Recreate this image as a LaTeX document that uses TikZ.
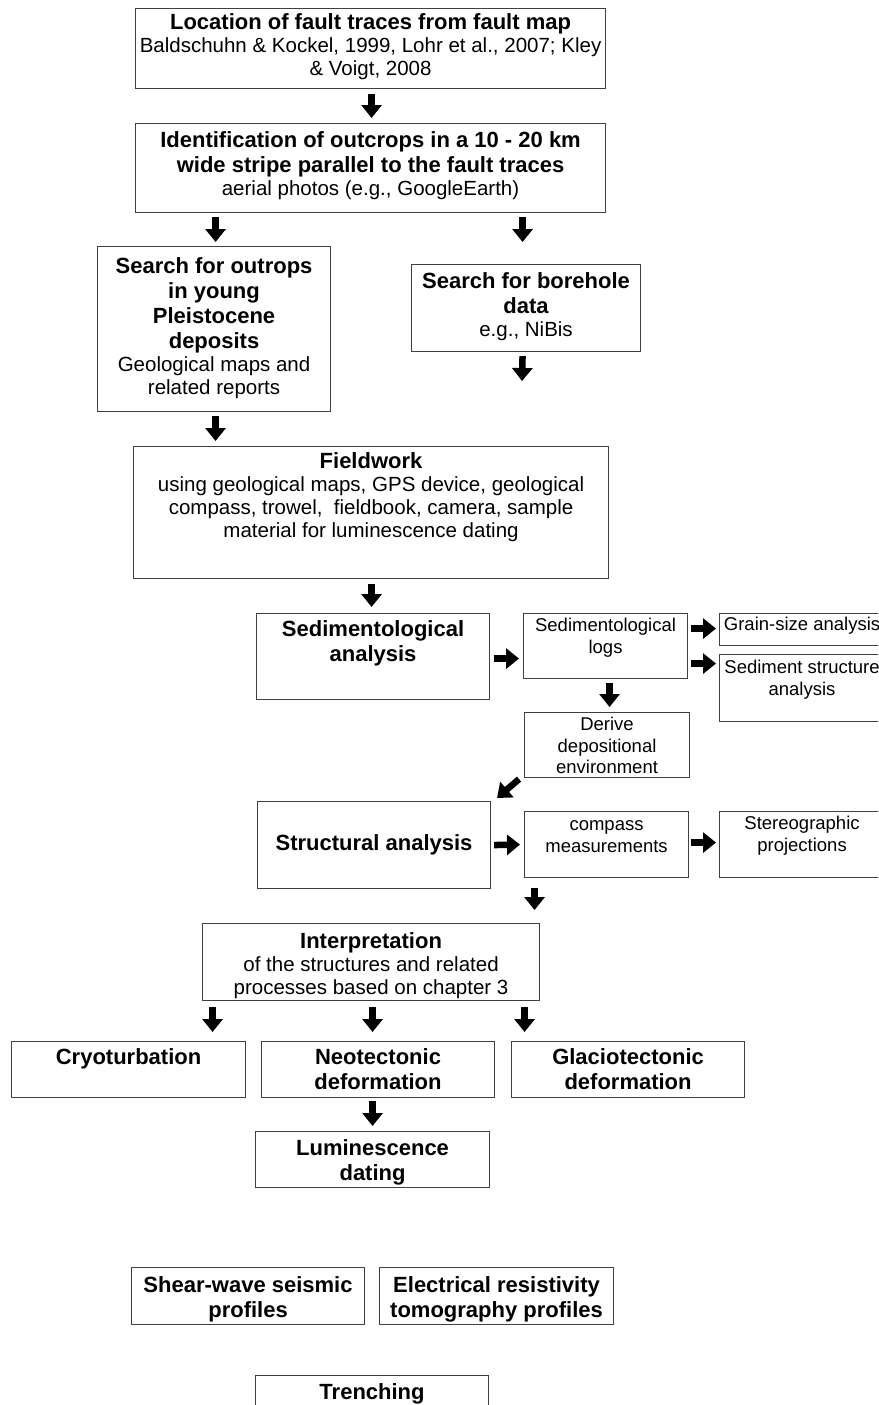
\documentclass[tikz,border=0pt]{standalone}
\usepackage{fontspec}
\setmainfont{Liberation Sans}
\usetikzlibrary{arrows.meta}
\newcommand\Bf{\fontsize{22}{25}\selectfont\bfseries}
\newcommand\Nf{\fontsize{20.5}{23}\selectfont\mdseries}
\newcommand\Sf{\fontsize{18.5}{21.5}\selectfont\mdseries}
\newcommand\bxn[7]{\node[bx] (#1) at (#2,#3) {\parbox[c][\dimexpr #5pt-#3pt\relax][t]{\dimexpr #4pt-#2pt\relax}{\centering\vspace*{#6pt}#7\par}};}
\tikzset{
  bx/.style={draw=black!75, line width=1.1pt, inner sep=0pt, anchor=north west},
  blk/.style={line width=6.5pt, black, -{Triangle[width=20pt,length=13pt]}},
}
\begin{document}
\begin{tikzpicture}[x=1pt,y=-1pt]
\useasboundingbox (0,0) rectangle (878,1405);
\fill[white] (0,0) rectangle (878,1405);
\clip (0,0) rectangle (878,1405);

\bxn{b1}{135}{8}{605}{88}{5}{{\Bf Location of fault traces from fault map\par}{\Nf Baldschuhn \& Kockel, 1999, Lohr et al., 2007; Kley\\ \& Voigt, 2008\par}}
\bxn{b2}{135}{123}{605}{212}{8}{{\Bf Identification of outcrops in a 10 - 20 km\\wide stripe parallel to the fault traces\par}{\Nf aerial photos (e.g., GoogleEarth)\par}}
\bxn{b3}{97}{246}{330}{411}{11}{{\Bf Search for outrops\\in young\\Pleistocene\\deposits\par}{\Nf Geological maps and\\related reports\par}}
\bxn{b4}{411}{264}{640}{351}{8}{{\Bf Search for borehole\\data\par}{\Nf e.g., NiBis\par}}
\bxn{fw}{133}{446}{608}{578}{6}{{\Bf Fieldwork\par}{\Nf using geological maps, GPS device, geological\\compass, trowel,\ \ fieldbook, camera, sample\\material for luminescence dating\par}}
\bxn{sa}{256}{613}{489}{699}{7}{{\Bf Sedimentological\\analysis\par}}
\bxn{lg}{523}{613}{687}{678}{5}{{\Sf Sedimentological\\logs\par}}
\bxn{gs}{719}{613}{884}{645}{4}{{\Sf Grain-size analysis\par}}
\bxn{ss}{719}{654}{884}{721}{6}{{\Sf Sediment structure\\analysis\par}}
\bxn{dv}{524}{712}{689}{777}{5}{{\Sf Derive\\depositional\\environment\par}}
\bxn{st}{257}{801}{490}{888}{33}{{\Bf Structural analysis\par}}
\bxn{cm}{524}{811}{688}{877}{9}{{\Sf compass\\measurements\par}}
\bxn{sp}{719}{811}{884}{877}{5}{{\Sf Stereographic\\projections\par}}
\bxn{ip}{202}{923}{539}{1000}{9}{{\Bf Interpretation\par}{\Nf of the structures and related\\processes based on chapter 3\par}}
\bxn{cr}{11}{1041}{245}{1097}{7}{{\Bf Cryoturbation\par}}
\bxn{nt}{261}{1041}{494}{1097}{7}{{\Bf Neotectonic\\deformation\par}}
\bxn{gt}{511}{1041}{744}{1097}{7}{{\Bf Glaciotectonic\\deformation\par}}
\bxn{lu}{255}{1131}{489}{1187}{8}{{\Bf Luminescence\\dating\par}}
\bxn{sh}{131}{1267}{364}{1324}{9}{{\Bf Shear-wave seismic\\profiles\par}}
\bxn{el}{379}{1267}{613}{1324}{9}{{\Bf Electrical resistivity\\tomography profiles\par}}
\bxn{tr}{255}{1375}{488}{1432}{8}{{\Bf Trenching\par}}

\coordinate (e4) at (522,381);

\draw[blk] ([xshift=1pt,yshift=-5pt]b1.south) -- ([xshift=1pt,yshift=5pt]b2.north);
\draw[blk] ([xshift=-155pt,yshift=-4pt]b2.south) -- ([xshift=1.5pt,yshift=4pt]b3.north);
\draw[blk] ([xshift=152pt,yshift=-4pt]b2.south) -- ([xshift=-3.5pt,yshift=22pt]b4.north);
\draw[blk] ([xshift=-3.5pt,yshift=-4pt]b4.south) -- (e4);
\draw[blk] ([xshift=1.5pt,yshift=-4pt]b3.south) -- ([xshift=-155.5pt,yshift=5pt]fw.north);
\draw[blk] ([xshift=0.5pt,yshift=-5pt]fw.south) -- ([xshift=-1.5pt,yshift=6pt]sa.north);
\draw[blk] ([xshift=4pt,yshift=-2pt]sa.east) -- ([xshift=-4pt,yshift=-12.5pt]lg.west);
\draw[blk] ([xshift=3pt,yshift=17.5pt]lg.east) -- ([xshift=-3pt,yshift=1pt]gs.west);
\draw[blk] ([xshift=3pt,yshift=-17.5pt]lg.east) -- ([xshift=-3pt,yshift=24.5pt]ss.west);
\draw[blk] ([xshift=4pt,yshift=-4pt]lg.south) -- ([xshift=2.5pt,yshift=5pt]dv.north);
\draw[blk] ([xshift=-5pt,yshift=-1pt]dv.south west) -- ([xshift=6pt,yshift=3pt]st.north east);
\draw[blk] ([xshift=3pt]st.east) -- ([xshift=-4pt]cm.west);
\draw[blk] ([xshift=2pt,yshift=2pt]cm.east) -- ([xshift=-3pt,yshift=2pt]sp.west);
\draw[blk] ([xshift=-72pt,yshift=-10pt]cm.south) -- ([xshift=163.5pt,yshift=13pt]ip.north);
\draw[blk] ([xshift=-158.5pt,yshift=-6pt]ip.south) -- ([xshift=84pt,yshift=9pt]cr.north);
\draw[blk] ([xshift=1.5pt,yshift=-6pt]ip.south) -- ([xshift=-5.5pt,yshift=9pt]nt.north);
\draw[blk] ([xshift=153.5pt,yshift=-6pt]ip.south) -- ([xshift=-103.5pt,yshift=9pt]gt.north);
\draw[blk] ([xshift=-5.5pt,yshift=-3pt]nt.south) -- ([yshift=5pt]lu.north);
\end{tikzpicture}
\end{document}
